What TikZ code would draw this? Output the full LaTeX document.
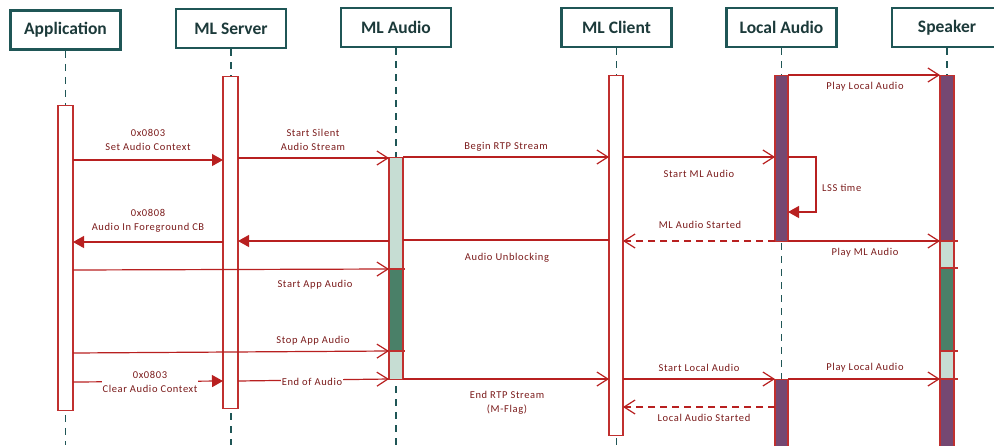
\documentclass[tikz,border=0pt]{standalone}
\usepackage{fontspec}
\setmainfont{Carlito}
\newfontfamily\lblfont[LetterSpace=6]{Carlito}
\usetikzlibrary{arrows.meta}
\definecolor{hdrteal}{HTML}{1F5656}
\definecolor{hdrtext}{HTML}{1C3A3A}
\definecolor{barred}{HTML}{C0302F}
\definecolor{msgred}{HTML}{B82020}
\definecolor{lbltext}{HTML}{7A1A1A}
\definecolor{purplebar}{HTML}{754872}
\definecolor{lightgreen}{HTML}{C6DDD3}
\definecolor{darkgreen}{HTML}{4A8068}
\begin{document}
\begin{tikzpicture}[x=1pt,y=-1pt,
  hdr/.style={draw=hdrteal, line width=2.6pt, fill=white, minimum width=110pt, minimum height=39pt, inner sep=0pt, font=\fontsize{17.5}{19}\selectfont\bfseries, text=hdrtext},
  life/.style={draw=hdrteal, line width=1.6pt, dash pattern=on 7pt off 6pt},
  bar/.style={draw=barred, line width=1.3pt, inner sep=0pt, minimum width=14pt, anchor=north},
  msg/.style={draw=msgred, line width=1.2pt},
  openarr/.style={msg, -{Straight Barb[length=11pt,width=14pt,line width=1.2pt]}},
  fillarr/.style={msg, -{Triangle[length=11pt,width=12pt]}},
  retarr/.style={openarr, dash pattern=on 7pt off 5pt},
  lbl/.style={text=lbltext, font=\lblfont\fontsize{10.5}{14.5}\selectfont, align=center, inner sep=1pt},
  tick/.style={draw=barred, line width=1.3pt},
]
\useasboundingbox (0,0) rectangle (994,445);
\clip (0,0) rectangle (994,445);

% headers
\node[hdr] (app) at (65.5,30) {Application};
\node[hdr] (srv) at (231,28.5) {ML Server};
\node[hdr] (aud) at (396,27.5) {ML Audio};
\node[hdr] (cli) at (616.5,27.5) {ML Client};
\node[hdr] (loc) at (781.5,27.5) {Local Audio};
\node[hdr] (spk) at (947,27.5) {Speaker};

% lifelines
\coordinate (append) at (65.5,445);
\coordinate (srvend) at (231,445);
\coordinate (audend) at (396,445);
\coordinate (cliend) at (616.5,445);
\coordinate (locend) at (781.5,445);
\coordinate (spkend) at (947,445);
\draw[life] (app.south) -- (append);
\draw[life] (srv.south) -- (srvend);
\draw[life] (aud.south) -- (audend);
\draw[life] (cli.south) -- (cliend);
\draw[life] (loc.south) -- (locend);
\draw[life] (spk.south) -- (spkend);

% activation bars
\node[bar, fill=white, minimum width=15pt, minimum height=305pt] (appbar) at (65.5,105) {};
\node[bar, fill=white, minimum width=15pt, minimum height=332pt] (srvbar) at (230.5,76) {};
\node[bar, fill=lightgreen, minimum height=112pt] (audA) at (396,157) {};
\node[bar, fill=darkgreen, minimum height=82pt] (audB) at (396,269) {};
\node[bar, fill=lightgreen, minimum height=28pt] (audC) at (396,351) {};
\node[bar, fill=white, minimum height=360pt] (clibar) at (616,75) {};
\node[bar, fill=purplebar, minimum width=13pt, minimum height=166pt] (locA) at (781.5,75) {};
\node[bar, fill=purplebar, minimum width=13pt, minimum height=80pt] (locB) at (781.5,379) {};
\node[bar, fill=purplebar, minimum height=166pt] (spkA) at (947,75) {};
\node[bar, fill=lightgreen, minimum height=27pt] (spkB) at (947,241) {};
\node[bar, fill=darkgreen, minimum height=83pt] (spkC) at (947,268) {};
\node[bar, fill=lightgreen, minimum height=28pt] (spkD) at (947,351) {};
\node[bar, fill=purplebar, minimum height=80pt] (spkE) at (947,379) {};

% boundary ticks reaching past the bars
\coordinate (k1) at (405,269); \draw[tick] (audB.north west) -- (k1);
\coordinate (k2) at (405,351); \draw[tick] (audC.north west) -- (k2);
\coordinate (k3) at (958,241); \draw[tick] (spkB.north west) -- (k3);
\coordinate (k4) at (958,268); \draw[tick] (spkC.north west) -- (k4);
\coordinate (k5) at (958,351); \draw[tick] (spkD.north west) -- (k5);
\coordinate (k6) at (958,379); \draw[tick] (spkE.north west) -- (k6);

% message end points
\coordinate (m1a) at (73,160);   \coordinate (m1b) at (223,160);
\coordinate (m2a) at (238,158);  \coordinate (m2b) at (389,158);
\coordinate (m3a) at (403,157);  \coordinate (m3b) at (609,157);
\coordinate (m4a) at (623,157);  \coordinate (m4b) at (775,157);
\coordinate (s1) at (788,157);   \coordinate (s2) at (816,157);
\coordinate (s3) at (816,212);   \coordinate (s4) at (788,212);
\coordinate (p1a) at (788,75);   \coordinate (p1b) at (940,75);
\coordinate (r1a) at (775,241);  \coordinate (r1b) at (623,241);
\coordinate (p2a) at (788,241);  \coordinate (p2b) at (940,241);
\coordinate (u1a) at (609,240);  \coordinate (u1b) at (403,240);
\coordinate (u2a) at (389,241);  \coordinate (u2b) at (238,241);
\coordinate (u3a) at (223,242);  \coordinate (u3b) at (73,242);
\coordinate (saa) at (73,270);   \coordinate (sab) at (389,269);
\coordinate (spa) at (73,353);   \coordinate (spb) at (389,351);
\coordinate (ca) at (73,382);    \coordinate (cb) at (223,381);
\coordinate (ea) at (238,381);   \coordinate (eb) at (389,379);
\coordinate (ra) at (403,379);   \coordinate (rb) at (609,379);
\coordinate (la) at (623,379);   \coordinate (lb) at (775,379);
\coordinate (pla) at (788,379);  \coordinate (plb) at (940,379);
\coordinate (lsa) at (775,407);  \coordinate (lsb) at (623,407);

% messages
\draw[fillarr] (m1a) -- (m1b);
\draw[openarr] (m2a) -- (m2b);
\draw[openarr] (m3a) -- (m3b);
\draw[openarr] (m4a) -- (m4b);
\draw[fillarr] (s1) -- (s2) -- (s3) -- (s4);
\draw[openarr] (p1a) -- (p1b);
\draw[retarr] (r1a) -- (r1b);
\draw[openarr] (p2a) -- (p2b);
\draw[msg] (u1a) -- (u1b);
\draw[fillarr] (u2a) -- (u2b);
\draw[fillarr] (u3a) -- (u3b);
\draw[openarr] (saa) -- (sab);
\draw[openarr] (spa) -- (spb);
\draw[fillarr] (ca) -- (cb);
\draw[openarr] (ea) -- (eb);
\draw[openarr] (ra) -- (rb);
\draw[openarr] (la) -- (lb);
\draw[openarr] (pla) -- (plb);
\draw[retarr] (lsa) -- (lsb);

% labels
\node[lbl] (t1) at (148,140) {0x0803\\Set Audio Context};
\node[lbl] (t2) at (313,140) {Start Silent\\Audio Stream};
\node[lbl] (t3) at (506,147) {Begin RTP Stream};
\node[lbl] (t4) at (699,174) {Start ML Audio};
\node[lbl, anchor=west] (t5) at (821,188) {LSS time};
\node[lbl] (t6) at (865,87) {Play Local Audio};
\node[lbl] (t7) at (700,225) {ML Audio Started};
\node[lbl] (t8) at (148,221) {0x0808\\Audio In Foreground CB};
\node[lbl] (t9) at (507,258) {Audio Unblocking};
\node[lbl] (t10) at (865,253) {Play ML Audio};
\node[lbl] (t11) at (315,285) {Start App Audio};
\node[lbl] (t12) at (313,341) {Stop App Audio};
\node[lbl, fill=white] (t13) at (150,382) {0x0803\\Clear Audio Context};
\node[lbl, fill=white] (t14) at (312,382) {End of Audio};
\node[lbl] (t15) at (507,403) {End RTP Stream\\(M-Flag)};
\node[lbl] (t16) at (699,368) {Start Local Audio};
\node[lbl] (t17) at (865,368) {Play Local Audio};
\node[lbl] (t18) at (704,418) {Local Audio Started};
\end{tikzpicture}
\end{document}
